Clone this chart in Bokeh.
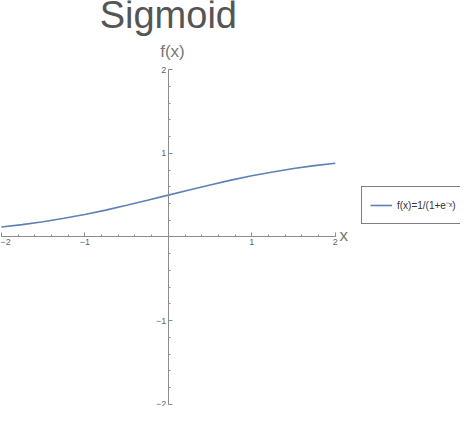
from bokeh.plotting import figure
from bokeh.models import (Range1d, LinearAxis, FixedTicker, Label, Legend, LegendItem)
from bokeh.embed import file_html
from bokeh.resources import INLINE

# curve values
xs = [-2.0, -1.75, -1.5, -1.25, -1.0, -0.75, -0.5, -0.25, 0.0,
      0.25, 0.5, 0.75, 1.0, 1.25, 1.5, 1.75, 2.0]
ys = [0.12, 0.148, 0.182, 0.223, 0.269, 0.321, 0.378, 0.438, 0.5,
      0.562, 0.622, 0.679, 0.731, 0.777, 0.818, 0.852, 0.88]
tick_vals = [-2, -1, 1, 2]
minor_vals = [round(-2 + 0.2 * i, 1) for i in range(21)]

# frame covers the whole canvas so annotations are not clipped
p = figure(width=460, height=406, output_backend="svg", toolbar_location=None,
           x_range=Range1d(-2.01, 3.499), y_range=Range1d(-2.024, 2.824),
           x_axis_type=None, y_axis_type=None,
           min_border_left=0, min_border_right=0, min_border_top=0, min_border_bottom=0)
p.grid.visible = False
p.outline_line_color = None

axis_color = "#8c8c8c"
for side in ["below", "left"]:
    ax = LinearAxis(fixed_location=0, bounds=(-2, 2))
    ax.ticker = FixedTicker(ticks=tick_vals, minor_ticks=minor_vals)
    ax.axis_line_color = axis_color
    ax.major_tick_line_color = axis_color
    ax.minor_tick_line_color = axis_color
    ax.major_tick_in = 4
    ax.major_tick_out = 0
    ax.minor_tick_in = 2
    ax.minor_tick_out = 0
    ax.major_label_text_color = "#666666"
    ax.major_label_text_font = "Liberation Sans"
    ax.major_label_text_font_size = "9px"
    ax.major_label_standoff = 2
    ax.major_label_overrides = {-2: "−2", -1: "−1"}
    p.add_layout(ax, side)

r = p.line(xs, ys, line_color="#5E81B5", line_width=1.6)

p.add_layout(Label(x=0, y=2.4, text="Sigmoid", text_align="center", text_color="#555555",
                   text_font="Liberation Sans", text_font_size="38px"))
p.add_layout(Label(x=0.05, y=2.1, text="f(x)", text_align="center", text_color="#777777",
                   text_font="Liberation Sans", text_font_size="17px"))
p.add_layout(Label(x=2.05, y=-0.1, text="x", text_color="#777777",
                   text_font="Liberation Sans", text_font_size="17px"))

leg = Legend(items=[LegendItem(label="f(x)=1/(1+e⁻ˣ)", renderers=[r])],
             location=(361, 182), border_line_color="black", border_line_width=1,
             label_text_font="Liberation Sans", label_text_font_size="10px",
             label_text_color="#333333", glyph_width=22, padding=8, margin=0,
             background_fill_alpha=1)
p.add_layout(leg, "center")

open("out.html", "w").write(file_html(p, INLINE))
